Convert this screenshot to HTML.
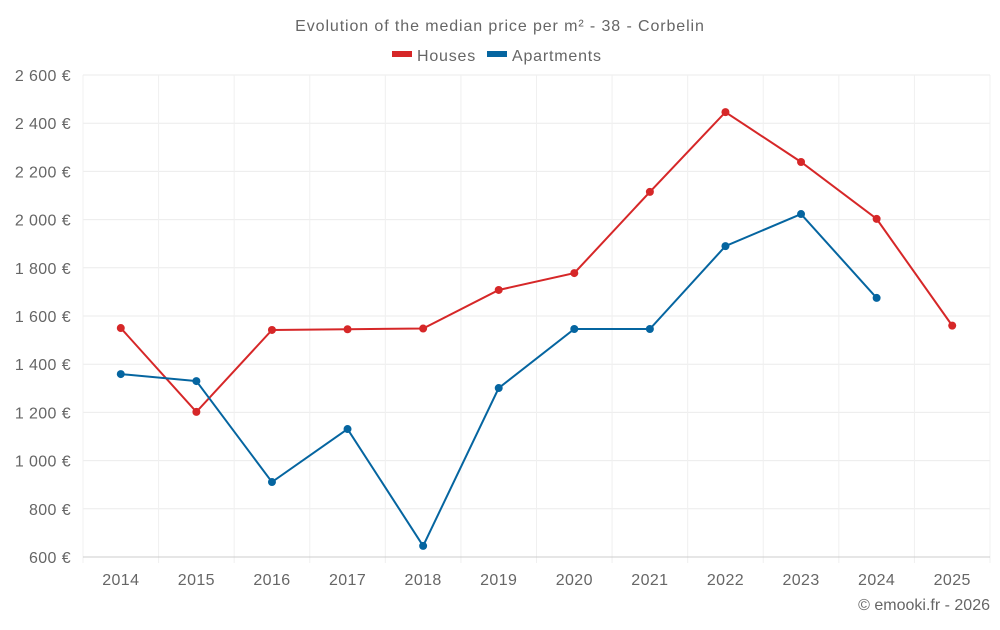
<!DOCTYPE html>
<html><head><meta charset="utf-8"><style>
body{margin:0;background:#fff;font-family:"Liberation Sans",sans-serif}
svg text{font-family:"Liberation Sans",sans-serif;fill:#666}
</style></head><body>
<svg id="c" width="1000" height="625">
<text x="500" y="31" text-anchor="middle" font-size="16" letter-spacing="0.9">Evolution of the median price per m² - 38 - Corbelin</text>
<g>
<g><rect x="392" y="51" width="20" height="6" fill="#d62728"/><text x="417" y="61" font-size="16" letter-spacing="0.8">Houses</text></g>
<g><rect x="487" y="51" width="20" height="6" fill="#0565a0"/><text x="512" y="61" font-size="16" letter-spacing="0.8">Apartments</text></g>
</g>
<g id="grid"></g><g id="axes"></g><g id="series"></g>
<text x="990" y="610" text-anchor="end" font-size="16">© emooki.fr - 2026</text>
</svg>
<script>
const years=[2014,2015,2016,2017,2018,2019,2020,2021,2022,2023,2024,2025];
const houses=[1550,1202,1542,1545,1548,1708,1778,2115,2446,2239,2003,1560];
const apartments=[1359,1330,911,1131,646,1301,1546,1546,1890,2023,1675,null];
const yTicks=[600,800,1000,1200,1400,1600,1800,2000,2200,2400,2600];
const L=83,R=990,T=75,B=557,yMin=600,yMax=2600;
const bw=(R-L)/years.length;
const x=i=>L+bw*(i+0.5);
const y=v=>B-(v-yMin)/(yMax-yMin)*(B-T);
const NS='http://www.w3.org/2000/svg';
function mk(t,a,p){const e=document.createElementNS(NS,t);for(const k in a)e.setAttribute(k,a[k]);p.appendChild(e);return e;}
const g=document.getElementById('grid'),ax=document.getElementById('axes'),s=document.getElementById('series');
yTicks.forEach(v=>{
 const l=mk('line',{x1:L,x2:R,y1:y(v),y2:y(v),stroke:'#ebebeb'},g);
 
 
 const t=mk('text',{x:71,y:y(v)+6,'text-anchor':'end','font-size':16,'letter-spacing':0.4},ax);
 t.textContent=String(v).replace(/\B(?=(\d{3})+(?!\d))/g,' ')+' €';
 
 
});
for(let i=0;i<=years.length;i++){
 const l=mk('line',{x1:L+bw*i,x2:L+bw*i,y1:T,y2:B+6,stroke:'#f0f0f0'},g);
 
 
}
years.forEach((yr,i)=>{
 const t=mk('text',{x:x(i),y:585,'text-anchor':'middle','font-size':16,'letter-spacing':0.4},ax);
 t.textContent=yr;
 
 
});
const base=mk('line',{x1:L,x2:R,y1:B,y2:B,stroke:'#ccc'},ax);


function draw(arr,col,name){
 const pts=[];arr.forEach((v,i)=>{if(v!=null)pts.push([x(i),y(v)]);});
 const p=mk('polyline',{points:pts.map(q=>q.join(',')).join(' '),fill:'none',stroke:col,'stroke-width':2},s);
 
 
 pts.forEach(q=>{const c=mk('circle',{cx:q[0],cy:q[1],r:4,fill:col},s);
  
  });
}
draw(houses,'#d62728','houses');
draw(apartments,'#0565a0','apartments');
</script>
</body></html>
